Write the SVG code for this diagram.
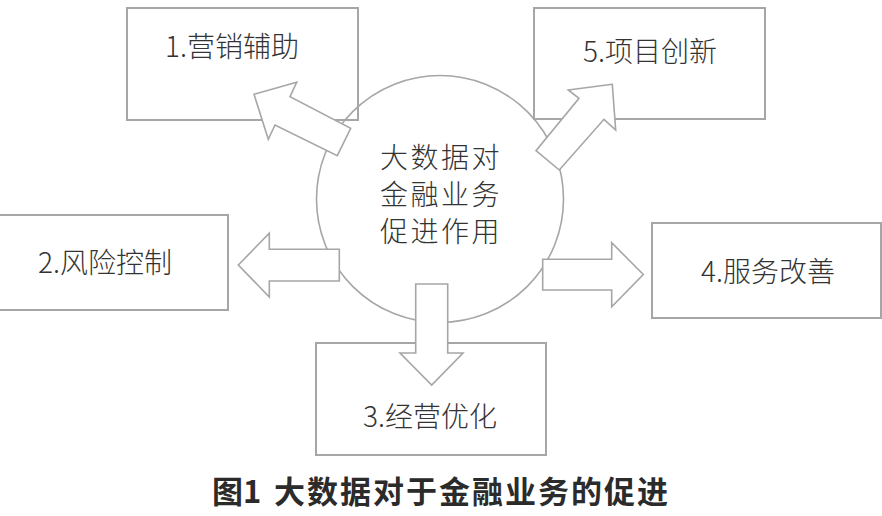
<svg xmlns="http://www.w3.org/2000/svg" width="882" height="516" viewBox="0 0 882 516">
  <style>
    .box { fill: none; stroke: #a6a6a6; stroke-width: 2; }
    .hub { fill: none; stroke: #a6a6a6; stroke-width: 1.6; }
    .arr { fill: #ffffff; stroke: #a6a6a6; stroke-width: 1.6; stroke-linejoin: miter; }
    .lbl { font-family: "Noto Sans CJK SC", "Noto Sans", sans-serif; font-size: 28px; font-weight: 300; fill: #333333; }
    .hubtxt { font-family: "Noto Sans CJK SC", "Noto Sans", sans-serif; font-size: 28px; font-weight: 300; fill: #333333; letter-spacing: 2.5px; }
    .cap { font-family: "Noto Sans CJK SC", "Noto Sans", sans-serif; font-size: 31px; font-weight: 600; fill: #2b2b2b; }
  </style>
  <rect width="882" height="516" fill="#ffffff"/>

  <g id="node-1">
    <rect class="box" x="127" y="8" width="231" height="112"/>
    <text class="lbl" x="165" y="56.7">1.营销辅助</text>
  </g>
  <g id="node-5">
    <rect class="box" x="534" y="8" width="231" height="111"/>
    <text class="lbl" x="583" y="62">5.项目创新</text>
  </g>
  <g id="node-2">
    <rect class="box" x="-2" y="215" width="230" height="95"/>
    <text class="lbl" x="38" y="273.3">2.风险控制</text>
  </g>
  <g id="node-4">
    <rect class="box" x="652" y="223" width="229" height="95"/>
    <text class="lbl" x="701" y="281.7">4.服务改善</text>
  </g>
  <g id="node-3">
    <rect class="box" x="316" y="343" width="230" height="112"/>
    <text class="lbl" x="363" y="426.7">3.经营优化</text>
  </g>

  <g id="hub">
    <circle class="hub" cx="440" cy="199" r="123.5"/>
    <text class="hubtxt" x="441" y="168" text-anchor="middle">大数据对</text>
    <text class="hubtxt" x="441" y="205" text-anchor="middle">金融业务</text>
    <text class="hubtxt" x="441" y="242" text-anchor="middle">促进作用</text>
  </g>

  <g id="connectors">
    <polygon class="arr" points="254,94.3 296.7,82.3 290,96.7 350.7,128.3 337.3,155.7 275,125 268.3,139.3"/>
    <polygon class="arr" points="612.3,84.3 568.3,90 579,98.3 536,150.7 559.3,170 604,119.3 615.7,130"/>
    <polygon class="arr" points="238.3,265 269.3,233.3 269.3,249.3 339.3,249.3 339.3,281 269.3,281 269.3,297"/>
    <polygon class="arr" points="542.7,259.3 611.7,259.3 611.7,242.7 643.3,274.5 611.7,306.7 611.7,290 542.7,290"/>
    <polygon class="arr" points="415.7,284 447.7,284 447.7,353 463,353 431.7,385 400,353 415.7,353"/>
  </g>

  <g id="caption">
    <text class="cap" x="212" y="503">图1</text>
    <text class="cap" x="274" y="503" letter-spacing="2">大数据对于金融业务的促进</text>
  </g>
</svg>
